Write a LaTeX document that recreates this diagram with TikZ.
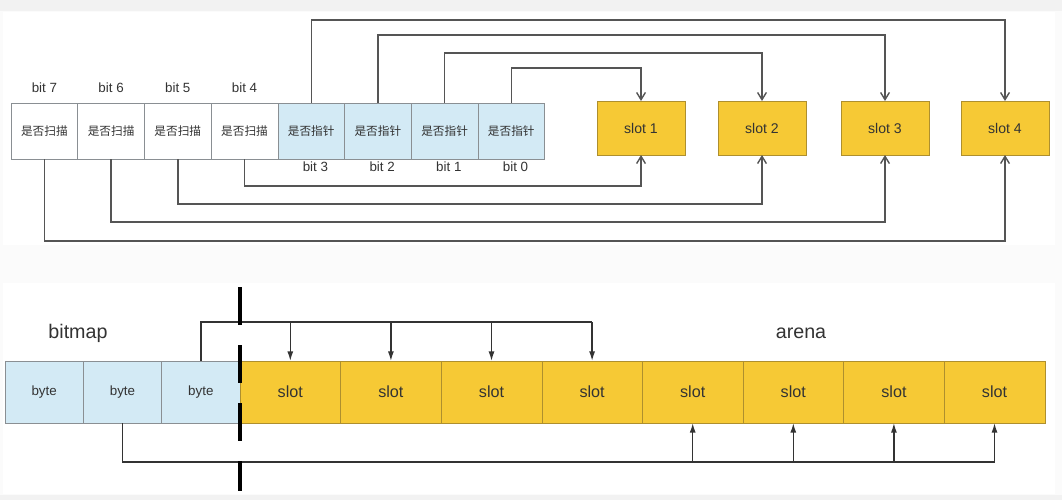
\documentclass[tikz,border=0pt]{standalone}
\usepackage{fontspec}
\setmainfont{Liberation Sans}
\newfontfamily\cjk{Noto Sans CJK SC}
\usetikzlibrary{arrows.meta,positioning}

\definecolor{cellblue}{HTML}{D3EAF5}
\definecolor{slotyellow}{HTML}{F6C935}
\definecolor{slotedge}{HTML}{AE8F2E}
\definecolor{boxedge}{HTML}{8A8F93}
\definecolor{wireg}{HTML}{555555}
\definecolor{txt}{HTML}{333333}

\begin{document}
\begin{tikzpicture}[x=0.025cm,y=-0.025cm,
  scanbox/.style={rectangle,draw=boxedge,fill=white,minimum width=1.6675cm,minimum height=1.4cm,inner sep=0pt,outer sep=0pt,text=txt,font=\fontsize{8.3}{9}\selectfont\cjk},
  ptrbox/.style={scanbox,fill=cellblue},
  slotbox/.style={rectangle,draw=slotedge,fill=slotyellow,minimum width=2.2cm,minimum height=1.35cm,inner sep=0pt,outer sep=0pt,text=txt,font=\fontsize{10}{12}\selectfont},
  bytebox/.style={rectangle,draw=boxedge,fill=cellblue,minimum width=1.958cm,minimum height=1.55cm,inner sep=0pt,outer sep=0pt,text=txt,font=\fontsize{9.5}{11}\selectfont},
  cellslot/.style={rectangle,draw=slotedge,fill=slotyellow,minimum width=2.515cm,minimum height=1.55cm,inner sep=0pt,outer sep=0pt,text=txt,font=\fontsize{11.5}{13}\selectfont},
  bitlbl/.style={text=txt,font=\fontsize{9.5}{11}\selectfont},
  title/.style={text=txt,font=\fontsize{14}{16}\selectfont},
  link/.style={draw=wireg,line width=1pt,-{Straight Barb[length=1.8mm,width=2.2mm]}},
  wire/.style={draw=black!80,line width=1pt},
  tap/.style={wire,-{Latex[length=2.4mm,width=1.5mm]}},
  divider/.style={draw=black,line width=2.8pt,dash pattern=on 0.95cm off 0.5cm}]

 % ---- backdrop ----
 \fill[gray!3] (0,0) rectangle (1062,500);
 \fill[gray!10] (0,0) rectangle (1062,11);
 \fill[gray!10] (0,495) rectangle (1062,500);
 \fill[white] (3,12) rectangle (1055,245);
 \fill[white] (3,283) rectangle (1055,494);

 % ---- bitmap byte: 8 bits ----
 \foreach \k [count=\i from 0] in {7,6,5,4} {
   \node[scanbox] (b\k) at ({44.4+66.7*\i},131) {是否扫描};
   \node[bitlbl] (l\k) at (b\k.north |- 0,88) {bit \k};
 }
 \foreach \k [count=\i from 4] in {3,2,1,0} {
   \node[ptrbox] (b\k) at ({44.4+66.7*\i},131) {是否指针};
   \node[bitlbl,xshift=3] (l\k) at (b\k.south |- 0,167) {bit \k};
 }

 % ---- slots ----
 \foreach \n/\x in {1/641,2/762,3/885,4/1005}
   \node[slotbox] (s\n) at (\x,128) {slot \n};

 % ---- pointer bits over, scan bits under ----
 \foreach \k/\n/\y in {3/4/20,2/3/35,1/2/53,0/1/68}
   \draw[link] (b\k.north) -- (b\k.north |- 0,\y) -| (s\n.north);
 \foreach \k/\n/\y in {4/1/186,5/2/204,6/3/222,7/4/241}
   \draw[link] (b\k.south) -- (b\k.south |- 0,\y) -| (s\n.south);

 % ---- bitmap | arena ----
 \foreach \i in {1,2,3}
   \node[bytebox] (y\i) at ({5+78.33*(\i-0.5)},392) {byte};
 \foreach \i in {1,...,8}
   \node[cellslot] (c\i) at ({240+100.6*(\i-0.5)},392) {slot};
 \node[title] (bm) at (78,333) {bitmap};
 \node[title] (ar) at (801,333) {arena};

 \coordinate (up) at (0,322);
 \coordinate (dn) at (0,462);
 \draw[wire] (y3.north) |- (c4.north |- up);
 \foreach \i in {1,...,4} \draw[tap] (c\i.north |- up) -- (c\i.north);
 \draw[wire] (y2.south) |- (c8.south |- dn);
 \foreach \i in {5,...,8} \draw[tap] (c\i.south |- dn) -- (c\i.south);

 \draw[divider] (y3.east |- 0,287) -- (y3.east |- 0,491);

 \useasboundingbox (0,0) rectangle (1062,500);
\end{tikzpicture}
\end{document}
